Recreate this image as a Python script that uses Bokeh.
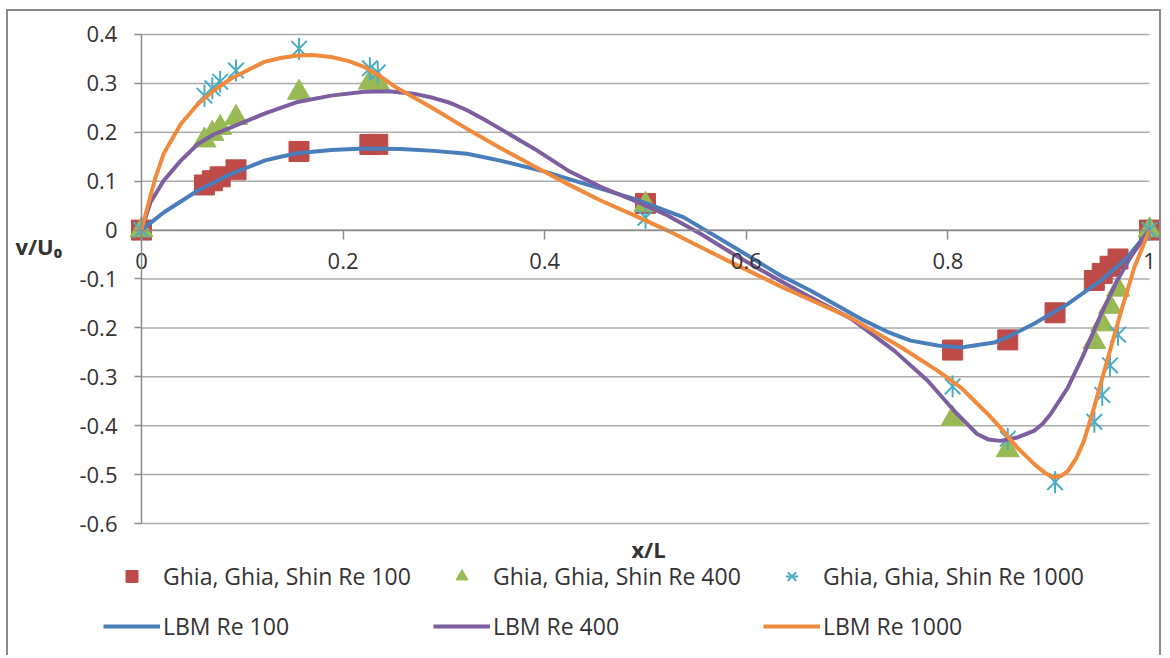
import math
from bokeh.plotting import figure
from bokeh.models import (Range1d, LinearAxis, FixedTicker, CustomJSTickFormatter,
                          Legend, LegendItem, Label)
from bokeh.embed import file_html
from bokeh.resources import INLINE

# ---------------- data ----------------
ghia_x = [0.0, 0.0625, 0.0703, 0.0781, 0.0938, 0.1563, 0.2266, 0.2344, 0.5,
          0.8047, 0.8594, 0.9063, 0.9453, 0.9531, 0.9609, 0.9688, 1.0]
ghia_re100 = [0.0, 0.0923, 0.1009, 0.1089, 0.1232, 0.1608, 0.1751, 0.1753, 0.0545,
              -0.2453, -0.2245, -0.1691, -0.1031, -0.0886, -0.0739, -0.0591, 0.0]
ghia_x_re400 = [0.0, 0.0625, 0.0703, 0.0781, 0.0938, 0.1563, 0.2266, 0.2344, 0.5,
                0.8047, 0.8594, 0.9453, 0.9531, 0.9609, 0.9688, 1.0]
ghia_re400 = [0.0, 0.1836, 0.1971, 0.2092, 0.2297, 0.2812, 0.3020, 0.3017, 0.0519,
              -0.3860, -0.4499, -0.2285, -0.1925, -0.1566, -0.1215, 0.0]
ghia_re1000 = [0.0, 0.2749, 0.2901, 0.3035, 0.3263, 0.3710, 0.3308, 0.3224, 0.0253,
               -0.3197, -0.4267, -0.5155, -0.3919, -0.3371, -0.2767, -0.2139, 0.0]

lbm100_x = [0.0, 0.022, 0.056, 0.089, 0.105, 0.122, 0.138, 0.155, 0.188, 0.221,
            0.257, 0.290, 0.323, 0.356, 0.396, 0.439, 0.489, 0.538, 0.588, 0.634,
            0.664, 0.714, 0.740, 0.763, 0.790, 0.813, 0.846, 0.862, 0.885, 0.919,
            0.952, 0.978, 1.0]
lbm100_y = [0.0, 0.036, 0.081, 0.115, 0.128, 0.142, 0.150, 0.157, 0.164, 0.167,
            0.166, 0.162, 0.156, 0.142, 0.122, 0.095, 0.064, 0.026, -0.035, -0.093,
            -0.124, -0.182, -0.208, -0.226, -0.236, -0.240, -0.230, -0.216, -0.192, -0.151,
            -0.103, -0.056, 0.0]

lbm400_x = [0.0, 0.009, 0.022, 0.039, 0.056, 0.072, 0.089, 0.122, 0.155, 0.188,
            0.221, 0.245, 0.270, 0.290, 0.305, 0.323, 0.340, 0.356, 0.390, 0.423,
            0.456, 0.489, 0.522, 0.555, 0.588, 0.615, 0.634, 0.664, 0.704, 0.747,
            0.780, 0.806, 0.829, 0.840, 0.852, 0.869, 0.886, 0.894, 0.902, 0.919,
            0.935, 0.952, 0.968, 0.981, 1.0]
lbm400_y = [0.0, 0.057, 0.101, 0.142, 0.176, 0.196, 0.210, 0.238, 0.262, 0.275,
            0.283, 0.284, 0.279, 0.270, 0.261, 0.245, 0.226, 0.207, 0.166, 0.122,
            0.088, 0.060, 0.030, -0.008, -0.050, -0.082, -0.104, -0.138, -0.181, -0.247,
            -0.308, -0.369, -0.417, -0.428, -0.431, -0.424, -0.410, -0.396, -0.376, -0.322,
            -0.253, -0.172, -0.103, -0.056, 0.0]

lbm1000_x = [0.0, 0.006, 0.014, 0.022, 0.039, 0.056, 0.072, 0.089, 0.122, 0.138,
             0.155, 0.170, 0.188, 0.205, 0.221, 0.238, 0.254, 0.290, 0.323, 0.356,
             0.390, 0.423, 0.456, 0.489, 0.522, 0.555, 0.588, 0.634, 0.664, 0.704,
             0.754, 0.790, 0.813, 0.840, 0.852, 0.869, 0.886, 0.896, 0.905, 0.912,
             0.919, 0.927, 0.935, 0.945, 0.958, 0.972, 0.985, 1.0]
lbm1000_y = [0.0, 0.047, 0.108, 0.156, 0.217, 0.258, 0.286, 0.310, 0.344, 0.352,
             0.357, 0.358, 0.354, 0.346, 0.334, 0.313, 0.290, 0.248, 0.207, 0.168,
             0.130, 0.094, 0.060, 0.030, -0.001, -0.035, -0.069, -0.115, -0.143, -0.180,
             -0.240, -0.288, -0.322, -0.377, -0.404, -0.445, -0.479, -0.496, -0.506, -0.503,
             -0.493, -0.468, -0.431, -0.363, -0.267, -0.165, -0.076, 0.0]

x_ticks = [0.0, 0.2, 0.4, 0.6, 0.8, 1.0]
y_ticks = [-0.6, -0.5, -0.4, -0.3, -0.2, -0.1, 0.0, 0.1, 0.2, 0.3, 0.4]

labels_scatter = ["Ghia, Ghia, Shin Re 100", "Ghia, Ghia, Shin Re 400", "Ghia, Ghia, Shin Re 1000"]
labels_lines = ["LBM Re 100", "LBM Re 400", "LBM Re 1000"]
x_title = "x/L"
y_title = "v/U₀"

# ---------------- style ----------------
FONT = "Open Sans"
FS = "22px"
TXT = "#333333"
GRID = "#ABABAB"
AXIS = "#8C8C8C"
EDGE = "2px solid #8A8A8A"
C_RED, C_GREEN, C_TEAL = "#BE4B48", "#98B954", "#4BACC6"
C_BLUE, C_PURPLE, C_ORANGE = "#4A7EBB", "#7D5FA0", "#F08A3C"

# the frame fills the whole canvas; the data box [0,1]x[-0.6,0.4] sits inside it
p = figure(width=1155, height=646,
           x_range=Range1d(-0.1319, 1.0139), y_range=Range1d(-0.8740, 0.4470),
           output_backend="svg", toolbar_location=None,
           x_axis_type=None, y_axis_type=None,
           min_border_left=0, min_border_right=0, min_border_top=0, min_border_bottom=0,
           outline_line_color=None, background_fill_color="white", border_fill_color="white",
           styles={"margin": "9px 0 0 6px", "border-left": EDGE,
                   "border-top": EDGE, "border-right": EDGE})

fmt = CustomJSTickFormatter(code="return String(Math.round(tick*10)/10)")

# horizontal gridlines across the data box, one per y tick
p.segment(x0=[x_ticks[0]] * len(y_ticks), x1=[x_ticks[-1]] * len(y_ticks),
          y0=y_ticks, y1=y_ticks, line_color=GRID, line_width=1.5)

yaxis = LinearAxis(fixed_location=0, bounds=(y_ticks[0], y_ticks[-1]),
                   ticker=FixedTicker(ticks=y_ticks), formatter=fmt,
                   axis_line_color=AXIS, axis_line_width=1.5,
                   major_tick_line_color=AXIS, major_tick_line_width=1.5,
                   major_tick_out=7, major_tick_in=0, minor_tick_line_color=None,
                   major_label_standoff=17,
                   major_label_text_font=FONT, major_label_text_font_size=FS,
                   major_label_text_color=TXT)
p.add_layout(yaxis, "left")

xaxis = LinearAxis(fixed_location=0, bounds=(x_ticks[0], x_ticks[-1]),
                   ticker=FixedTicker(ticks=x_ticks), formatter=fmt,
                   axis_line_color=AXIS, axis_line_width=1.5,
                   major_tick_line_color=AXIS, major_tick_line_width=1.5,
                   major_tick_out=9, major_tick_in=0, minor_tick_line_color=None,
                   major_label_standoff=14,
                   major_label_text_font=FONT, major_label_text_font_size=FS,
                   major_label_text_color=TXT)
p.add_layout(xaxis, "below")

# scatter (reference data)
r_sq = p.scatter(ghia_x, ghia_re100, marker="square", size=20,
                 fill_color=C_RED, line_color=C_RED, line_width=1)
r_tri = p.scatter(ghia_x_re400, ghia_re400, marker="triangle", size=23,
                  fill_color=C_GREEN, line_color=C_GREEN, line_width=1)
r_x = p.scatter(ghia_x, ghia_re1000, marker="x", size=22, line_color=C_TEAL, line_width=2)
r_v = p.scatter(ghia_x, ghia_re1000, marker="dash", size=22, angle=math.pi / 2,
                line_color=C_TEAL, line_width=2)

# LBM lines
r_l100 = p.line(lbm100_x, lbm100_y, line_color=C_BLUE, line_width=4, line_join="round")
r_l400 = p.line(lbm400_x, lbm400_y, line_color=C_PURPLE, line_width=4, line_join="round")
r_l1000 = p.line(lbm1000_x, lbm1000_y, line_color=C_ORANGE, line_width=4, line_join="round")

legend = Legend(items=[
    LegendItem(label=labels_scatter[0], renderers=[r_sq]),
    LegendItem(label=labels_scatter[1], renderers=[r_tri]),
    LegendItem(label=labels_scatter[2], renderers=[r_x, r_v]),
    LegendItem(label=labels_lines[0], renderers=[r_l100]),
    LegendItem(label=labels_lines[1], renderers=[r_l400]),
    LegendItem(label=labels_lines[2], renderers=[r_l1000]),
], location=(95, 15), orientation="horizontal", ncols=3,
    glyph_width=57, glyph_height=30, label_standoff=3, label_width=252,
    spacing=18, padding=0, margin=0, border_line_color=None,
    background_fill_alpha=0, label_text_font=FONT, label_text_font_size="23px",
    label_text_color=TXT)
p.add_layout(legend, "center")

p.add_layout(Label(x=7, y=412, x_units="screen", y_units="screen", text=y_title,
                   text_font=FONT, text_font_style="bold", text_font_size=FS,
                   text_color=TXT, text_align="left", text_baseline="middle"))
p.add_layout(Label(x=640, y=109, x_units="screen", y_units="screen", text=x_title,
                   text_font=FONT, text_font_style="bold", text_font_size=FS,
                   text_color=TXT, text_align="center", text_baseline="middle"))

open("out.html", "w").write(file_html(p, INLINE))
